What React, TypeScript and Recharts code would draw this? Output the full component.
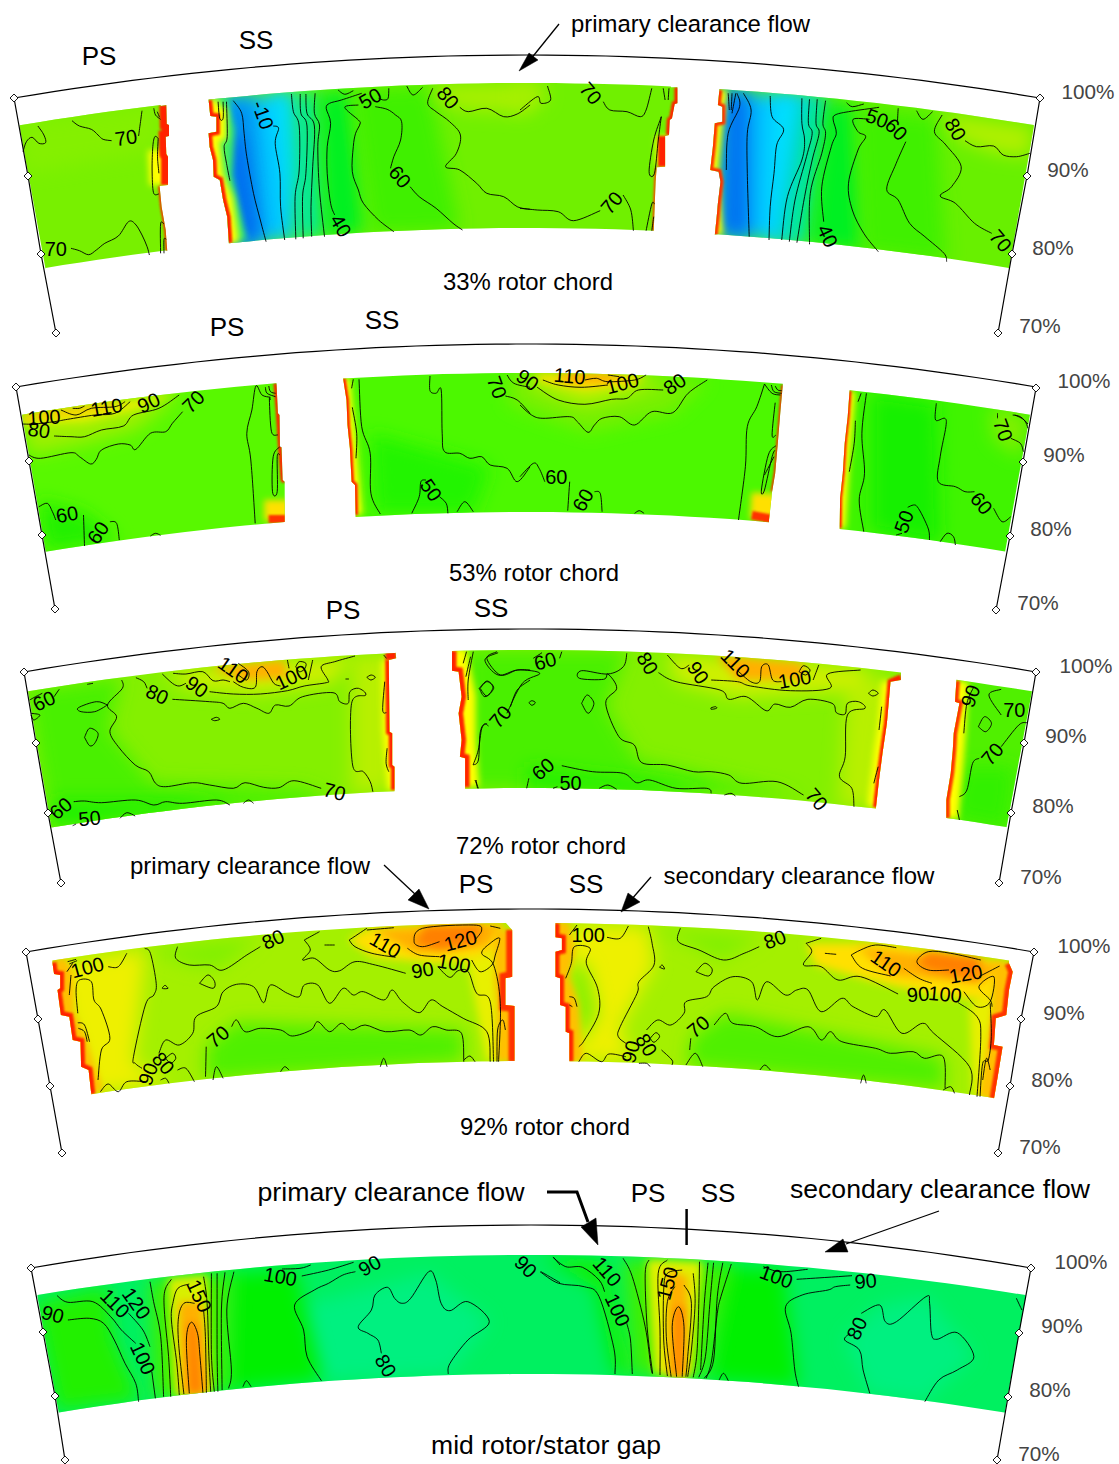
import React from "react";
import { ScatterChart, Scatter, XAxis, YAxis } from "recharts";

const W = 1119, H = 1464;
type Crop = { x: number; y: number; f: number };
const C1 = { x: 0, y: 0, f: 2.958 }, C2 = { x: 520, y: 0, f: 2.618 }, C3 = { x: 0, y: 300, f: 2.958 }, C4 = { x: 520, y: 300, f: 2.618 };
const C5 = { x: 0, y: 600, f: 2.958 }, C6 = { x: 430, y: 600, f: 2.276 }, C7 = { x: 0, y: 850, f: 2.958 }, C8 = { x: 530, y: 850, f: 2.662 };
const C9 = { x: 0, y: 1170, f: 2.8 }, C10 = { x: 540, y: 1170, f: 2.708 };

const frames = [
  { apex: [527, 55], left: [[14, 98], [28, 176], [41, 254], [56, 333]], right: [[1040, 98], [1027, 176], [1012, 254], [998, 333]] },
  { apex: [526, 344], left: [[16, 387], [29, 461], [42, 535], [55, 609]], right: [[1036, 388], [1023, 462], [1010, 536], [996, 610]] },
  { apex: [530, 629], left: [[24, 672], [36, 743], [48, 813], [61, 883]], right: [[1036, 672], [1024, 743], [1011, 813], [999, 883]] },
  { apex: [530, 909], left: [[26, 952], [38, 1019], [50, 1086], [62, 1153]], right: [[1034, 952], [1021, 1019], [1010, 1086], [998, 1153]] },
  { apex: [531, 1225], left: [[31, 1268], [43, 1332], [55, 1396], [65, 1460]], right: [[1031, 1268], [1019, 1333], [1008, 1397], [997, 1460]] },
];

// id, apex x, top apex y, bottom apex y, left edge, right edge, base colour
const regions: any[] = [
  ["r1a", 527, 83, 228, [C1, 58, 378, 135, 808], [C1, 475, 318, 492, 315, 493, 372, 500, 375, 500, 408, 490, 410, 492, 462, 497, 470, 497, 555, 472, 558, 478, 620, 490, 690, 495, 755], "#78f000"],
  ["r1b", 527, 83, 228, [C1, 617, 300, 622, 348, 640, 350, 640, 395, 617, 400, 620, 440, 630, 480, 632, 530, 650, 540, 660, 600, 672, 650, 677, 730], [C2, 395, 262, 412, 262, 412, 310, 405, 312, 398, 355, 392, 360, 390, 405, 380, 408, 380, 500, 358, 502, 355, 545, 350, 695], "#70f000"],
  ["r1c", 527, 83, 228, [C2, 522, 270, 518, 315, 530, 320, 530, 365, 510, 370, 505, 440, 498, 510, 520, 515, 525, 545, 518, 610, 515, 650, 510, 705], [C2, 1345, 380, 1280, 808], "#68f000"],
  ["r2a", 526, 373, 512, [C3, 65, 345, 135, 752], [C3, 815, 250, 818, 250, 822, 340, 827, 345, 828, 440, 833, 442, 836, 540, 842, 545, 842, 662], "#58f800"],
  ["r2b", 526, 373, 512, [C3, 1015, 235, 1025, 300, 1028, 375, 1035, 445, 1040, 545, 1050, 555, 1052, 645], [C4, 688, 255, 682, 330, 675, 430, 668, 520, 660, 575, 652, 660], "#4cf800"],
  ["r2c", 526, 373, 512, [C4, 863, 272, 858, 350, 850, 430, 845, 520, 838, 595, 837, 685], [C4, 1335, 345, 1270, 755], "#40f400"],
  ["r3a", 530, 650, 788, [C5, 83, 275, 152, 682], [C5, 1170, 155, 1172, 175, 1150, 180, 1152, 395, 1160, 400, 1160, 495, 1167, 500, 1167, 570], "#84f000"],
  ["r3b", 530, 650, 788, [C6, 50, 152, 50, 212, 65, 215, 72, 290, 65, 340, 72, 420, 68, 470, 80, 475, 80, 562], [C6, 1072, 222, 1072, 240, 1048, 245, 1040, 370, 1030, 460, 1022, 540, 1015, 622], "#84f000"],
  ["r3c", 530, 650, 788, [C6, 1198, 242, 1195, 305, 1205, 310, 1192, 400, 1190, 450, 1185, 520, 1175, 600, 1175, 655], [C6, 1370, 275, 1312, 683], "#50f000"],
  ["r4a", 530, 923, 1061, [C7, 155, 338, 160, 372, 178, 375, 178, 415, 170, 420, 180, 495, 205, 500, 215, 570, 238, 575, 240, 650, 262, 660, 270, 733], [C7, 1497, 220, 1515, 240, 1515, 380, 1495, 385, 1495, 465, 1522, 468, 1522, 635], "#a4f000"],
  ["r4b", 530, 923, 1061, [C8, 68, 220, 68, 262, 85, 265, 85, 300, 68, 305, 68, 380, 80, 385, 80, 465, 95, 470, 95, 545, 105, 550, 105, 635], [C8, 1275, 340, 1285, 365, 1275, 420, 1268, 495, 1240, 505, 1235, 585, 1258, 590, 1245, 680, 1235, 748], "#a4f000"],
  ["r5", 531, 1255, 1374, [C9, 105, 380, 165, 730], [C10, 1315, 382, 1258, 733], "#00f060"],
];

// region id, crop, colour, outline
const patches: any[] = [
  ["r1a", C1, "#84f000", 60, 370, 480, 310, 470, 450, 70, 520],
  ["r1b", C1, "#00c4ff", 640, 300, 860, 280, 885, 500, 875, 720, 700, 730],
  ["r1b", C1, "#0090f0", 650, 300, 750, 290, 780, 720, 700, 730, 660, 500],
  ["r1b", C1, "#0060f0", 670, 420, 710, 400, 760, 720, 710, 730],
  ["r1b", C1, "#00e0ff", 800, 290, 865, 280, 880, 520, 845, 715, 830, 500],
  ["r1b", C1, "#00e8a0", 870, 280, 940, 275, 960, 710, 875, 718],
  ["r1b", C1, "#00f020", 940, 275, 1040, 270, 1080, 700, 960, 710],
  ["r1b", C1, "#40f000", 1040, 270, 1270, 255, 1360, 690, 1100, 700],
  ["r1b", C1, "#a8f000", 1290, 255, 1568, 250, 1568, 340, 1370, 330, 1290, 300],
  ["r1b", C2, "#a8f000", -10, 250, 70, 255, 60, 310, -10, 330],
  ["r1c", C2, "#00c0ff", 530, 270, 800, 295, 725, 725, 525, 705],
  ["r1c", C2, "#0070f0", 535, 270, 600, 280, 600, 715, 525, 705],
  ["r1c", C2, "#00e0ff", 660, 285, 740, 295, 680, 720, 650, 720],
  ["r1c", C2, "#00e8a0", 740, 295, 800, 300, 755, 732, 685, 722],
  ["r1c", C2, "#00f020", 800, 300, 880, 320, 900, 755, 755, 735],
  ["r1c", C2, "#40f000", 880, 320, 1090, 350, 1115, 785, 900, 755],
  ["r1c", C2, "#b0f000", 1100, 340, 1345, 380, 1335, 470, 1250, 460, 1150, 420],
  ["r2a", C3, "#20f000", 110, 600, 250, 640, 350, 720, 135, 752],
  ["r2a", C3, "#a0f000", 65, 345, 535, 280, 490, 320, 400, 390, 250, 430, 85, 465],
  ["r2a", C3, "#e8f000", 65, 345, 530, 278, 400, 330, 250, 365, 65, 375],
  ["r2a", C3, "#ffc000", 65, 345, 390, 298, 300, 330, 65, 362],
  ["r2b", C3, "#20f400", 1095, 400, 1450, 500, 1400, 640, 1110, 640],
  ["r2b", C4, "#78f000", -30, 222, 490, 240, 400, 340, 300, 365, 180, 395, 60, 350, -30, 310],
  ["r2b", C4, "#c0f000", 0, 222, 400, 232, 310, 270, 170, 313, 60, 270],
  ["r2b", C4, "#ffe000", 40, 222, 330, 225, 290, 255, 170, 268, 50, 245],
  ["r2b", C4, "#ffa000", 90, 222, 280, 225, 230, 245, 130, 245],
  ["r2c", C4, "#18f000", 920, 280, 1090, 310, 1100, 730, 920, 690],
  ["r2c", C4, "#80f000", 1230, 320, 1335, 345, 1310, 470, 1240, 420],
  ["r3a", C5, "#48f000", 80, 270, 360, 230, 320, 390, 450, 550, 900, 565, 1000, 610, 150, 685],
  ["r3a", C5, "#20f000", 160, 600, 680, 600, 500, 640, 150, 685],
  ["r3a", C5, "#b8f000", 1040, 165, 1170, 160, 1165, 570, 1040, 580],
  ["r3a", C5, "#d0f000", 480, 215, 1050, 165, 980, 250, 760, 280, 560, 265],
  ["r3a", C5, "#ffb000", 620, 205, 840, 180, 850, 235, 720, 240],
  ["r3b", C6, "#48f000", 80, 150, 450, 150, 400, 320, 470, 480, 850, 590, 80, 565],
  ["r3b", C6, "#20f000", 220, 500, 650, 570, 500, 585, 220, 570],
  ["r3b", C6, "#b8f000", 950, 240, 1050, 230, 1015, 620, 930, 620],
  ["r3b", C6, "#d0f000", 540, 165, 880, 190, 1000, 210, 985, 270, 700, 290, 560, 245],
  ["r3b", C6, "#ffb000", 650, 165, 850, 190, 850, 240, 700, 240],
  ["r3c", C6, "#30f000", 1210, 500, 1330, 500, 1312, 683, 1190, 650],
  ["r4a", C7, "#eef000", 160, 340, 430, 300, 395, 640, 500, 700, 270, 733, 230, 600],
  ["r4a", C7, "#80f000", 430, 295, 770, 260, 650, 355, 560, 345],
  ["r4a", C7, "#50f000", 610, 690, 610, 590, 700, 515, 1370, 540, 1370, 635],
  ["r4a", C7, "#e8f000", 1380, 320, 1480, 290, 1480, 635, 1440, 635],
  ["r4a", C7, "#ffe000", 1030, 270, 1090, 235, 1490, 222, 1480, 300, 1400, 330, 1290, 340, 1100, 320],
  ["r4a", C7, "#ffb000", 1100, 240, 1490, 222, 1440, 290, 1230, 310],
  ["r4a", C7, "#ff8000", 1225, 280, 1260, 228, 1430, 225, 1400, 280, 1300, 300],
  ["r4b", C8, "#eef000", 100, 225, 315, 230, 330, 345, 240, 530, 270, 630, 105, 635],
  ["r4b", C8, "#80f000", 100, 350, 150, 340, 180, 490, 130, 590],
  ["r4b", C8, "#80f000", 320, 230, 620, 260, 510, 330, 400, 270],
  ["r4b", C8, "#50f000", 420, 650, 430, 560, 520, 490, 1100, 620, 1105, 720],
  ["r4b", C8, "#e8f000", 1170, 470, 1240, 370, 1235, 740, 1180, 740],
  ["r4b", C8, "#ffe000", 735, 280, 950, 280, 1270, 340, 1230, 450, 1100, 440, 900, 390, 760, 345],
  ["r4b", C8, "#ffb000", 870, 290, 1260, 345, 1200, 400, 960, 375],
  ["r4b", C8, "#ff8000", 1030, 340, 1060, 305, 1200, 325, 1190, 390, 1060, 360],
  ["r5", C9, "#00f080", 830, 410, 1200, 310, 1370, 455, 1260, 610, 900, 630],
  ["r5", C9, "#20f000", 100, 400, 300, 350, 320, 510, 390, 690, 160, 720],
  ["r5", C9, "#00f000", 640, 310, 830, 300, 900, 630, 630, 660],
  ["r5", C9, "#40f000", 420, 330, 650, 305, 640, 660, 430, 690],
  ["r5", C9, "#d8f000", 470, 325, 580, 315, 590, 670, 490, 680],
  ["r5", C9, "#ffb000", 500, 395, 565, 395, 585, 670, 510, 675],
  ["r5", C9, "#ff8000", 525, 460, 550, 460, 565, 670, 530, 670],
  ["r5", C10, "#00f080", 825, 510, 920, 405, 1050, 380, 1175, 560, 1040, 695, 890, 670],
  ["r5", C10, "#10f000", 0, 255, 175, 275, 250, 612, 200, 612, 150, 350],
  ["r5", C10, "#00f000", 480, 290, 660, 300, 700, 650, 460, 630],
  ["r5", C10, "#40f000", 225, 265, 520, 282, 450, 625, 250, 612],
  ["r5", C10, "#e0f000", 290, 268, 440, 275, 410, 620, 310, 612],
  ["r5", C10, "#ffb000", 345, 300, 400, 320, 395, 620, 345, 618],
  ["r5", C10, "#ff8000", 365, 410, 390, 410, 385, 620, 365, 620],
];
const finePatchColours = ["#ffc000", "#ffe000", "#ffb000", "#ffa000", "#ff8000", "#e0f000", "#d8f000", "#e8f000"];

// region id, crop, colour, stroke width, soft?, points
const bands: any[] = [
  ["r1a", C1, "#ffff00", 22, 1, 470, 450, 475, 555],
  ["r1a", C1, "#ff2000", 14, 0, 492, 315, 493, 372, 500, 375, 500, 408, 490, 410, 492, 462, 497, 470, 497, 555],
  ["r1a", C1, "#ff2000", 3, 0, 472, 558, 478, 620, 490, 690, 495, 755],
  ["r1b", C1, "#40f060", 36, 1, 617, 300, 640, 395, 632, 530, 677, 730],
  ["r1b", C1, "#ffff00", 20, 1, 617, 300, 622, 348, 640, 350, 640, 395, 617, 400, 632, 530, 660, 600, 677, 730],
  ["r1b", C1, "#ff2000", 7, 0, 617, 300, 622, 348, 640, 350, 640, 395, 617, 400, 620, 440, 630, 480, 632, 530, 650, 540, 660, 600, 672, 650, 677, 730],
  ["r1b", C2, "#ffff00", 18, 1, 380, 408, 380, 500],
  ["r1b", C2, "#ff2000", 6, 0, 412, 262, 412, 310, 405, 312, 398, 355, 392, 360, 390, 405],
  ["r1b", C2, "#ff2000", 14, 0, 380, 408, 380, 500],
  ["r1b", C2, "#ff4000", 3, 0, 358, 502, 355, 545, 350, 695],
  ["r1c", C2, "#ffff00", 16, 1, 522, 270, 510, 370, 498, 510, 510, 705],
  ["r1c", C2, "#ff3000", 6, 0, 522, 270, 518, 315, 530, 320, 530, 365, 510, 370, 505, 440, 498, 510, 520, 515, 525, 545, 518, 610, 515, 650, 510, 705],
  ["r2a", C3, "#ff2000", 4, 0, 815, 250, 822, 340, 828, 440, 836, 540, 842, 545],
  ["r2a", C3, "#ffe000", 30, 1, 826, 600, 826, 662],
  ["r2a", C3, "#ff3000", 24, 0, 830, 645, 830, 670],
  ["r2b", C3, "#ffff00", 14, 1, 1015, 235, 1035, 445, 1052, 645],
  ["r2b", C3, "#ff2000", 5, 0, 1015, 235, 1025, 300, 1028, 375, 1035, 445, 1040, 545, 1050, 555, 1052, 645],
  ["r2b", C4, "#ff2000", 3, 0, 688, 255, 682, 330, 675, 430, 668, 520, 660, 575],
  ["r2b", C4, "#ffe000", 26, 1, 640, 580, 636, 660],
  ["r2b", C4, "#ff3000", 24, 0, 640, 640, 636, 665],
  ["r2c", C4, "#ffff00", 12, 1, 863, 272, 845, 520, 837, 685],
  ["r2c", C4, "#ff2000", 4, 0, 863, 272, 858, 350, 850, 430, 845, 520, 838, 595, 837, 685],
  ["r3a", C5, "#ffff00", 14, 1, 1150, 180, 1152, 395, 1167, 570],
  ["r3a", C5, "#ff2000", 7, 0, 1150, 180, 1152, 395, 1160, 400, 1160, 495, 1167, 500, 1167, 570],
  ["r3a", C5, "#ff2000", 10, 0, 1140, 165, 1172, 165],
  ["r3b", C6, "#ffff00", 28, 1, 50, 152, 72, 290, 72, 420, 80, 562],
  ["r3b", C6, "#ff2000", 9, 0, 50, 152, 50, 212, 65, 215, 72, 290, 65, 340, 72, 420, 68, 470, 80, 475, 80, 562],
  ["r3b", C6, "#ffff00", 18, 1, 1048, 245, 1040, 370, 1030, 460, 1015, 622],
  ["r3b", C6, "#ff2000", 6, 0, 1072, 232, 1048, 245, 1040, 370, 1030, 460, 1022, 540, 1015, 622],
  ["r3c", C6, "#ffff00", 24, 1, 1198, 242, 1192, 400, 1185, 520, 1175, 655],
  ["r3c", C6, "#ff3000", 7, 0, 1198, 242, 1195, 305, 1205, 310, 1192, 400, 1190, 450, 1185, 520, 1175, 600, 1175, 655],
  ["r4a", C7, "#ffc000", 26, 1, 155, 338, 178, 375, 180, 495, 215, 570, 240, 650, 270, 733],
  ["r4a", C7, "#ff2000", 8, 0, 155, 338, 160, 372, 178, 375, 178, 415, 170, 420, 180, 495, 205, 500, 215, 570, 238, 575, 240, 650, 262, 660, 270, 733],
  ["r4a", C7, "#ffc000", 36, 1, 1515, 240, 1515, 380, 1522, 468, 1522, 635],
  ["r4a", C7, "#ff3000", 12, 0, 1515, 240, 1515, 380, 1495, 385, 1495, 465, 1522, 468, 1522, 635],
  ["r4b", C8, "#ffc000", 26, 1, 68, 220, 85, 300, 68, 380, 95, 470, 105, 635],
  ["r4b", C8, "#ff2000", 8, 0, 68, 220, 68, 262, 85, 265, 85, 300, 68, 305, 68, 380, 80, 385, 80, 465, 95, 470, 95, 545, 105, 550, 105, 635],
  ["r4b", C8, "#ffc000", 30, 1, 1275, 340, 1268, 495, 1235, 748],
  ["r4b", C8, "#ff3000", 9, 0, 1275, 340, 1285, 365, 1275, 420, 1268, 495, 1240, 505, 1235, 585, 1258, 590, 1245, 680, 1235, 748],
];

const linesC1 = [
  [213, 362, 235, 378, 270, 388, 290, 405, 305, 418, 330, 422], [420, 332, 415, 370, 410, 408],
  [68, 455, 78, 425, 95, 412, 115, 430, 135, 428, 130, 405, 112, 378], [455, 325, 460, 345, 475, 358], [465, 335, 472, 352],
  [468, 415, 458, 410, 452, 440, 450, 510, 454, 578, 470, 582], [468, 415, 466, 470, 470, 520],
  [210, 745, 235, 752, 262, 764, 285, 750, 310, 730, 350, 708, 380, 665, 400, 672, 420, 705, 435, 740, 442, 765],
  [475, 760, 475, 672, 485, 672], [485, 760, 485, 718, 492, 718],
  [645, 305, 650, 355, 660, 355, 660, 305], [670, 305, 672, 410, 663, 440, 670, 490, 680, 542],
  [690, 302, 715, 340, 722, 400, 730, 470, 750, 580, 770, 660, 787, 725], [808, 378, 824, 385, 814, 430, 828, 520, 830, 620, 842, 720],
  [862, 282, 868, 335, 885, 378, 885, 510, 873, 590, 875, 718], [888, 282, 890, 340, 908, 378, 905, 520, 895, 590, 897, 715],
  [905, 282, 908, 340, 930, 378, 925, 500, 920, 620, 922, 710], [932, 280, 930, 340, 945, 375, 940, 440, 945, 570, 960, 710],
  [1070, 280, 1010, 300, 975, 310, 965, 325, 978, 370, 968, 440, 968, 520, 978, 610, 990, 645],
  [1060, 315, 1020, 322, 1060, 360, 1065, 372, 1052, 400, 1045, 440, 1042, 515, 1060, 570, 1075, 610, 1120, 660, 1165, 695],
  [1110, 320, 1145, 328, 1170, 345, 1188, 365, 1185, 420, 1165, 470, 1155, 505], [1213, 560, 1240, 590, 1290, 625, 1340, 670, 1368, 690],
  [1000, 270, 1020, 283, 1045, 272], [1150, 265, 1148, 295, 1135, 300, 1120, 295], [1203, 258, 1222, 285, 1250, 262],
  [1280, 265, 1265, 310, 1290, 335, 1330, 365, 1362, 405, 1350, 460, 1318, 500, 1360, 510, 1410, 550, 1440, 580, 1490, 590, 1530, 620, 1568, 628],
  [1360, 322, 1385, 335, 1440, 325, 1490, 350, 1530, 342, 1568, 315],
];
const linesC2 = [
  [0, 330, 45, 290, 55, 310, 80, 300, 72, 258], [0, 625, 45, 630, 100, 635, 140, 662, 210, 632], [270, 585, 290, 630, 297, 692],
  [218, 305, 235, 330, 280, 335, 315, 350, 330, 330, 345, 265], [375, 265, 380, 300], [390, 265, 388, 300],
  [370, 350, 350, 420, 338, 515, 352, 520, 362, 420, 370, 350], [330, 692, 345, 612, 352, 612], [345, 692, 350, 650],
  [545, 280, 548, 330], [555, 280, 553, 330], [565, 280, 555, 340], [585, 280, 605, 330, 595, 400, 595, 520, 600, 710], [568, 280, 575, 320, 545, 400, 540, 510],
  [655, 288, 660, 350, 690, 388, 672, 435, 665, 520, 655, 620, 652, 720], [738, 295, 738, 370, 745, 420, 738, 480, 700, 590, 685, 720],
  [758, 298, 755, 370, 765, 400, 750, 470, 720, 600, 705, 725], [778, 298, 775, 370, 783, 400, 765, 480, 745, 590, 725, 728],
  [800, 302, 793, 370, 800, 400, 790, 460, 760, 580, 758, 733], [940, 322, 860, 335, 825, 345, 820, 360, 828, 400, 815, 440, 790, 560, 795, 665],
  [915, 358, 872, 358, 885, 395, 905, 410, 885, 450, 860, 550, 870, 630, 900, 700, 938, 755], [990, 325, 988, 370], [855, 308, 870, 320, 900, 312], [1038, 332, 1055, 358, 1080, 335],
  [1010, 425, 985, 490, 960, 568, 990, 600, 1020, 670, 1060, 710, 1110, 760, 1117, 785],
  [1105, 345, 1085, 395, 1115, 435, 1155, 500, 1130, 560, 1100, 588, 1140, 610, 1190, 670, 1235, 700],
  [1165, 422, 1195, 440, 1240, 438, 1265, 465, 1300, 470, 1335, 460],
];
const linesC3 = [
  [65, 372, 100, 372, 160, 365, 200, 358, 280, 345, 340, 340, 385, 305], [180, 330, 225, 345, 270, 325, 340, 320, 370, 305], [215, 325, 235, 325, 250, 318],
  [160, 408, 210, 410, 250, 410, 300, 390, 365, 378, 395, 345, 470, 325, 530, 285],
  [85, 465, 120, 475, 210, 458, 235, 470, 268, 492, 285, 478, 300, 450, 350, 432, 385, 435, 402, 448, 445, 400, 490, 395, 510, 370, 540, 335],
  [115, 620, 140, 610, 155, 635, 165, 660], [247, 645, 250, 738], [325, 665, 345, 670, 353, 720], [445, 708, 460, 700, 475, 706],
  [800, 292, 775, 285, 757, 258, 745, 330, 730, 400, 742, 480, 755, 670], [785, 262, 790, 280, 815, 290], [795, 258, 800, 275, 815, 280],
  [800, 300, 797, 300, 803, 395, 822, 405], [828, 440, 808, 470, 806, 575, 820, 575, 820, 470, 828, 465],
  [1045, 238, 1040, 265], [1062, 238, 1070, 380, 1095, 460, 1097, 580, 1125, 642], [1042, 322, 1055, 400, 1053, 475],
  [1272, 228, 1272, 272, 1290, 280, 1305, 270, 1308, 400, 1315, 455, 1360, 460, 1390, 475, 1425, 470, 1450, 495, 1500, 505, 1530, 545, 1568, 500],
  [1218, 640, 1240, 590, 1245, 545, 1260, 540], [1300, 590, 1320, 610, 1325, 640], [1352, 635, 1375, 605, 1400, 635], [1495, 288, 1530, 300, 1568, 340], [1500, 225, 1520, 250, 1568, 262],
];
const linesC4 = [
  [60, 240, 100, 255, 160, 262, 230, 255], [170, 240, 200, 235, 230, 245, 300, 240, 330, 225], [230, 225, 260, 230],
  [45, 262, 100, 300, 170, 313, 240, 298, 280, 295, 310, 270, 375, 270],
  [0, 315, 30, 345, 60, 355, 130, 350, 150, 365, 178, 397, 195, 375, 215, 355, 260, 350, 300, 375, 345, 335, 400, 338, 440, 280, 490, 240],
  [0, 530, 35, 490, 50, 505, 65, 545], [130, 545, 125, 632], [195, 575, 210, 580, 215, 635], [300, 640, 312, 632, 325, 640],
  [640, 252, 620, 320, 595, 380, 590, 500, 572, 660], [640, 252, 660, 280, 682, 285], [658, 255, 665, 275, 685, 280], [668, 258, 675, 270, 685, 272],
  [668, 308, 660, 405, 670, 405], [670, 437, 650, 465, 632, 570, 640, 570, 660, 470, 668, 450], [640, 525, 665, 470],
  [893, 280, 885, 305], [907, 280, 895, 400, 902, 520, 888, 600, 900, 695], [878, 362, 875, 430, 862, 515],
  [1090, 310, 1088, 360, 1112, 355, 1115, 380, 1100, 470, 1095, 545, 1140, 560, 1165, 575, 1190, 575],
  [1015, 622, 1030, 615, 1040, 620, 1055, 650, 1070, 690, 1072, 720], [985, 705, 1000, 700], [1100, 725, 1118, 700, 1135, 710, 1140, 735],
  [1240, 625, 1262, 665, 1285, 650], [1285, 415, 1310, 430, 1318, 455], [1330, 385, 1320, 360, 1295, 345], [1330, 372, 1310, 350, 1290, 345], [1250, 340, 1250, 355],
];
const linesC5 = [
  [88, 300, 105, 290, 125, 280], [160, 290, 175, 268], [92, 340, 118, 345, 100, 360, 92, 345], [258, 253, 275, 250],
  [360, 240, 362, 265, 318, 315, 345, 350, 325, 395, 350, 440, 400, 495, 440, 515, 460, 550, 490, 560, 570, 548, 620, 555, 690, 565, 725, 548, 780, 562, 825, 563, 870, 542, 950, 565],
  [318, 315, 285, 305, 232, 323, 240, 335, 280, 335, 318, 315], [250, 412, 265, 385, 290, 400, 280, 430, 265, 437, 250, 412], [402, 233, 425, 245, 435, 265],
  [510, 298, 620, 305, 660, 310, 680, 325, 720, 310, 760, 325, 795, 340, 815, 315, 855, 318, 895, 290, 985, 278, 1005, 305, 1030, 310, 1035, 275, 1060, 265, 1082, 285, 1040, 310, 1043, 495, 1075, 515, 1095, 545, 1103, 575],
  [625, 358, 640, 352, 650, 358, 635, 362, 625, 358], [1085, 232, 1098, 225, 1110, 232, 1097, 240, 1085, 232], [1022, 237, 1032, 237],
  [480, 222, 510, 250, 530, 258, 550, 250], [512, 220, 550, 222, 600, 215, 630, 242, 660, 240, 680, 245],
  [620, 275, 690, 282, 770, 282, 850, 272, 900, 258, 965, 248, 970, 240, 950, 200, 990, 185, 1050, 168],
  [690, 245, 720, 262, 755, 262, 760, 215, 775, 200, 790, 215, 810, 250, 830, 258], [705, 190, 735, 215, 730, 240, 705, 225],
  [850, 180, 855, 205], [875, 200, 885, 185, 905, 190, 900, 208, 885, 215, 875, 200], [925, 180, 912, 240],
  [1135, 165, 1143, 175], [1138, 245, 1132, 330, 1143, 338], [1145, 445, 1142, 490, 1150, 515],
  [218, 605, 250, 603, 300, 608, 400, 600, 455, 615, 490, 605, 540, 610, 640, 600, 680, 615], [355, 655, 375, 638, 400, 648], [720, 610, 735, 600, 750, 610], [215, 677, 225, 672],
  [1400, 155, 1385, 240, 1385, 300], [1380, 155, 1370, 190], [1392, 170, 1378, 230], [1470, 155, 1440, 175, 1480, 225, 1530, 210, 1568, 210],
  [1420, 265, 1440, 245, 1458, 262, 1440, 288, 1420, 265], [1510, 320, 1530, 270, 1568, 240], [1400, 495, 1415, 480, 1420, 400, 1432, 372, 1445, 378], [1405, 540, 1415, 565],
];
const linesC6 = [
  [155, 158, 125, 180, 155, 225, 200, 210, 250, 220, 210, 250, 175, 340], [112, 265, 130, 243, 145, 265, 125, 290, 112, 265], [300, 155, 295, 175],
  [225, 308, 232, 302, 240, 308, 232, 316, 225, 308], [255, 158, 235, 175], [130, 370, 118, 385, 110, 450, 98, 495], [345, 310, 358, 285, 373, 310, 360, 340, 345, 310],
  [448, 160, 440, 200, 405, 222, 345, 212, 340, 235, 395, 238, 405, 222, 425, 265, 400, 310, 430, 410, 465, 435, 482, 488, 540, 495, 600, 515, 640, 515, 680, 525, 710, 550, 790, 545, 850, 585],
  [520, 218, 560, 245, 660, 270, 680, 298, 720, 290, 765, 332, 785, 312, 820, 322, 860, 298, 915, 310, 925, 338, 945, 342, 950, 310, 975, 305, 990, 325, 950, 345, 945, 470, 932, 530, 960, 565, 965, 620],
  [540, 165, 570, 205, 590, 195], [640, 240, 700, 245, 730, 258, 820, 272, 910, 265, 905, 222, 980, 210], [700, 212, 730, 245, 750, 245, 755, 200, 770, 195, 780, 240, 800, 245],
  [840, 215, 850, 197, 865, 210, 855, 225, 840, 215], [885, 195, 872, 240], [998, 280, 1008, 270, 1020, 280, 1008, 288, 998, 280], [640, 323, 650, 320, 652, 325, 640, 328, 640, 323],
  [1028, 320, 1022, 390], [1020, 500, 1010, 550], [300, 497, 370, 515, 440, 520, 470, 548, 500, 540, 560, 565, 630, 565, 640, 580], [225, 535, 220, 565],
  [385, 565, 405, 555, 425, 568], [670, 585, 685, 580, 695, 588], [105, 540, 108, 565], [280, 565, 290, 560],
  [1300, 268, 1272, 285, 1300, 345], [1248, 380, 1262, 350, 1278, 370, 1265, 395, 1248, 380], [1360, 368, 1340, 375, 1300, 440], [1250, 475, 1235, 490, 1222, 570, 1205, 590], [1200, 630, 1205, 660], [1238, 260, 1222, 310, 1215, 400],
];
const linesC7 = [
  [198, 365, 215, 340], [200, 335, 225, 328], [205, 342, 228, 332], [210, 375, 205, 435],
  [230, 490, 225, 420, 235, 390, 270, 395, 278, 450, 300, 480, 325, 565, 300, 600, 290, 690], [320, 350, 350, 350, 375, 310], [230, 518, 250, 525, 265, 575], [232, 535, 250, 545, 258, 575],
  [428, 295, 445, 310, 462, 400, 455, 435, 430, 465, 395, 620, 400, 640, 420, 655], [488, 405, 480, 415, 497, 415, 488, 405],
  [525, 290, 520, 325, 560, 345, 620, 345, 660, 360, 730, 315, 770, 290], [590, 400, 615, 375, 635, 395, 630, 415, 590, 400],
  [900, 270, 945, 245], [900, 270, 918, 300, 895, 330, 930, 325, 975, 360, 1005, 362, 1050, 335, 1110, 345, 1200, 370],
  [1033, 270, 1085, 235], [1033, 270, 1050, 290, 1100, 310, 1170, 322], [960, 285, 990, 285], [1085, 240, 1165, 233],
  [1205, 295, 1240, 315, 1300, 320], [1300, 275, 1250, 290, 1225, 275, 1250, 235, 1400, 225, 1425, 240, 1405, 270],
  [1295, 350, 1330, 382, 1355, 362, 1385, 365, 1410, 430, 1450, 455, 1460, 635], [1395, 330, 1420, 365, 1455, 345, 1465, 315, 1478, 265, 1450, 280, 1425, 310, 1460, 345, 1480, 460, 1475, 635],
  [1450, 228, 1480, 235],
  [470, 610, 490, 570, 530, 585, 570, 550, 580, 500, 640, 470, 660, 425, 700, 403, 750, 410, 780, 458, 800, 405, 850, 430, 885, 440, 900, 405, 940, 405, 975, 460, 1015, 415, 1045, 435, 1075, 425, 1135, 450, 1160, 420, 1190, 455, 1240, 488, 1275, 450, 1310, 470, 1370, 505, 1440, 545, 1450, 635],
  [608, 680, 610, 590], [685, 530, 700, 510, 725, 545, 770, 535, 830, 540, 865, 558, 920, 540, 940, 515, 975, 545, 1010, 520, 1040, 540, 1080, 525, 1140, 545, 1210, 540, 1245, 555, 1280, 530, 1320, 540, 1365, 550, 1372, 635],
  [630, 690, 640, 650, 660, 685], [830, 665, 842, 650, 855, 660], [1125, 650, 1135, 625, 1145, 650], [1372, 630, 1390, 618, 1405, 635],
  [1470, 635, 1472, 540, 1487, 510, 1495, 540], [297, 725, 320, 702, 350, 725, 375, 695, 430, 695], [525, 660, 550, 655, 575, 695], [475, 690, 490, 685, 500, 700], [490, 625, 510, 610, 520, 625, 505, 640, 490, 625],
];
const linesC8 = [
  [105, 255, 125, 225], [95, 385, 110, 340, 118, 290, 160, 295, 150, 340, 180, 415, 183, 490, 145, 570, 130, 590], [105, 440, 118, 445, 125, 470], [105, 465, 113, 470],
  [205, 262, 240, 265, 262, 228], [315, 230, 325, 280, 330, 345, 290, 395, 285, 430, 240, 530, 235, 560, 255, 580], [345, 352, 352, 345, 358, 357, 345, 352], [442, 365, 465, 340, 485, 358, 475, 378, 442, 365],
  [400, 235, 395, 275, 450, 300, 515, 330, 570, 310, 610, 290], [735, 280, 775, 265], [735, 280, 750, 305, 728, 345, 775, 350, 820, 390, 880, 380, 980, 432],
  [855, 315, 880, 300, 920, 285, 975, 293], [855, 315, 885, 355, 960, 378], [785, 310, 815, 313],
  [1115, 360, 1060, 360, 1030, 335, 1060, 305, 1120, 310, 1200, 330], [995, 355, 1035, 385, 1070, 400], [1155, 425, 1190, 470, 1225, 455, 1235, 380, 1195, 410, 1225, 450, 1230, 470], [1250, 348, 1195, 380],
  [1140, 458, 1190, 500, 1200, 560, 1190, 740], [1225, 460, 1228, 560, 1220, 630, 1205, 640, 1198, 740],
  [310, 540, 340, 510, 375, 525, 410, 490, 415, 455, 470, 440, 490, 410, 540, 380, 590, 395, 605, 450, 630, 395, 680, 435, 710, 420, 740, 420, 775, 485, 830, 445, 860, 470, 920, 500, 945, 480, 990, 550, 1045, 520, 1075, 550, 1170, 650, 1170, 735],
  [425, 600, 428, 565], [490, 525, 520, 490, 540, 520, 600, 530, 660, 560, 740, 530, 775, 570, 800, 545, 830, 575, 920, 595, 960, 610, 1020, 605, 1050, 625, 1100, 620, 1105, 715],
  [415, 645, 440, 610, 460, 650], [612, 660, 625, 645, 640, 660], [880, 700, 888, 675, 895, 700], [1100, 720, 1120, 710, 1130, 730],
  [130, 635, 150, 610, 190, 635, 210, 612, 255, 620], [290, 640, 310, 640, 320, 650], [320, 565, 335, 548, 345, 560, 330, 577, 320, 565], [350, 600, 378, 630, 378, 645], [1205, 690, 1215, 625, 1225, 660],
];
const linesC9 = [
  [160, 377, 190, 397, 260, 395, 310, 440, 340, 480, 380, 520], [190, 450, 250, 445, 290, 460, 320, 510, 350, 580, 380, 640, 388, 695], [360, 430, 400, 480, 420, 530], [425, 605, 435, 685],
  [420, 335, 430, 395, 450, 500, 458, 680], [480, 328, 462, 360, 460, 420, 472, 560, 478, 680], [530, 342, 498, 355, 485, 395, 480, 450, 495, 580, 502, 675],
  [545, 400, 515, 400, 500, 440, 500, 520, 515, 672], [530, 670, 522, 510, 535, 457, 553, 490, 560, 560, 568, 668], [570, 420, 575, 500, 578, 668], [570, 320, 580, 400, 585, 560, 590, 665],
  [592, 310, 592, 550, 600, 665], [608, 310, 608, 550, 610, 665], [630, 307, 620, 420, 622, 660], [655, 305, 635, 420, 648, 600, 640, 655], [680, 650, 690, 632, 703, 650],
  [790, 297, 840, 295, 870, 285], [845, 318, 920, 300, 990, 277], [995, 305, 960, 315, 920, 340, 880, 360, 825, 405, 850, 480, 860, 560, 900, 632],
  [1068, 550, 1058, 510, 1030, 490, 1003, 470, 1040, 420, 1050, 375, 1085, 352, 1105, 385, 1125, 400, 1150, 385, 1200, 305, 1220, 330, 1235, 400, 1260, 422, 1310, 395, 1370, 455, 1310, 510, 1260, 580, 1255, 612],
  [1515, 305, 1568, 338], [1550, 262, 1568, 285],
];
const linesC10 = [
  [35, 262, 70, 290, 115, 292, 160, 330, 175, 365], [0, 305, 50, 340, 120, 350, 160, 380, 200, 535, 203, 612], [225, 265, 250, 320, 285, 470, 300, 590, 305, 612], [235, 460, 245, 510, 250, 612],
  [295, 270, 285, 310, 290, 470, 305, 610], [345, 270, 320, 310, 325, 480, 325, 615], [385, 300, 345, 310, 335, 360, 335, 510, 345, 618], [365, 350, 345, 395, 342, 500, 355, 620],
  [370, 620, 358, 470, 375, 410, 390, 470, 385, 620], [390, 345, 410, 400, 400, 560, 395, 620], [415, 310, 420, 400, 410, 540, 400, 620], [432, 275, 430, 400, 425, 550, 415, 622],
  [455, 278, 445, 400, 435, 600], [470, 278, 460, 400, 448, 560, 430, 622], [495, 278, 480, 380, 470, 570, 445, 625], [518, 282, 490, 380, 480, 430, 465, 570, 450, 625], [485, 630, 497, 610, 510, 632],
  [605, 290, 650, 305, 725, 298], [695, 328, 780, 322, 845, 317], [840, 345, 800, 350, 780, 360, 710, 375, 665, 410, 680, 490, 690, 600, 700, 650],
  [893, 670, 875, 600, 865, 540, 825, 510, 840, 490], [870, 430, 920, 405, 935, 455, 965, 455, 1045, 380, 1055, 400, 1060, 490, 1075, 508, 1130, 488, 1175, 560, 1130, 600, 1080, 630, 1042, 695], [1290, 385, 1305, 420],
];
const contourSets: any[] = [[C1, linesC1], [C2, linesC2], [C3, linesC3], [C4, linesC4], [C5, linesC5], [C6, linesC6], [C7, linesC7], [C8, linesC8], [C9, linesC9], [C10, linesC10]];

// crop, x, y, text, rotation
const contourLabels: any[] = [
  [C1, 373, 413, "70", -8], [C1, 165, 748, "70", 0], [C1, 778, 345, "-10", 70], [C1, 1095, 295, "50", -30], [C1, 1183, 530, "60", 50], [C1, 1325, 293, "80", 50], [C1, 1008, 677, "40", 60],
  [C2, 185, 280, "70", 50], [C2, 240, 608, "70", -50], [C2, 935, 355, "50", 20], [C2, 985, 388, "60", 45], [C2, 1140, 388, "80", 60], [C2, 805, 708, "40", 65], [C2, 1258, 722, "70", 50],
  [C3, 130, 352, "100", -3], [C3, 315, 322, "110", -10], [C3, 440, 308, "90", -25], [C3, 115, 390, "80", 8], [C3, 572, 305, "70", -45], [C3, 198, 643, "60", -10], [C3, 290, 698, "60", -55], [C3, 1275, 570, "50", 55], [C3, 1470, 262, "70", 70],
  [C4, 20, 240, "90", 35], [C4, 130, 228, "110", 5], [C4, 268, 250, "100", -15], [C4, 405, 252, "80", -35], [C4, 95, 530, "60", 0], [C4, 165, 600, "60", -60], [C4, 1265, 390, "70", 70], [C4, 1208, 610, "60", 50], [C4, 1005, 665, "50", -70],
  [C5, 130, 303, "60", -25], [C5, 465, 283, "80", 25], [C5, 582, 260, "90", 35], [C5, 690, 210, "110", 35], [C5, 862, 232, "100", -25], [C5, 990, 575, "70", 15], [C5, 180, 625, "60", -40], [C5, 265, 655, "50", -5],
  [C6, 262, 183, "60", -15], [C6, 160, 350, "70", -50], [C6, 495, 190, "80", 60], [C6, 610, 218, "90", 55], [C6, 695, 190, "110", 45], [C6, 830, 238, "100", -10], [C6, 257, 507, "60", -40], [C6, 320, 550, "50", 0], [C6, 880, 598, "70", 50], [C6, 1230, 288, "90", -70], [C6, 1330, 330, "70", 0], [C6, 1280, 462, "70", -50],
  [C7, 258, 352, "100", -15], [C7, 808, 268, "80", -25], [C7, 1140, 285, "110", 30], [C7, 1362, 272, "120", -15], [C7, 1250, 360, "90", -10], [C7, 1343, 340, "100", 10], [C7, 645, 560, "70", -40], [C7, 483, 640, "80", 50], [C7, 438, 672, "90", -70],
  [C8, 155, 255, "100", 0], [C8, 652, 268, "80", -20], [C8, 448, 530, "70", -40], [C8, 948, 340, "110", 35], [C8, 1160, 372, "120", -10], [C8, 1033, 433, "90", -5], [C8, 1105, 433, "100", 5], [C8, 310, 585, "80", 60], [C8, 268, 605, "90", -75],
  [C9, 148, 433, "90", 15], [C9, 322, 400, "110", 45], [C9, 382, 400, "120", 55], [C9, 558, 378, "150", 65], [C9, 400, 565, "100", 65], [C9, 785, 320, "100", 10], [C9, 1035, 287, "90", -30], [C9, 1472, 290, "90", 45], [C9, 1080, 587, "80", 60],
  [C10, 182, 305, "110", 50], [C10, 210, 420, "100", 65], [C10, 345, 340, "150", -75], [C10, 640, 320, "100", 20], [C10, 882, 333, "90", -5], [C10, 858, 475, "80", -65],
];

// x, y, text, size
const captions: any[] = [
  [99, 56, "PS", 26], [256, 40, "SS", 26], [690.5, 23, "primary clearance flow", 23.9], [528, 281, "33% rotor chord", 23.9],
  [227, 327, "PS", 26], [382, 320, "SS", 26], [534, 572, "53% rotor chord", 23.9],
  [343, 610, "PS", 26], [491, 608, "SS", 26], [541, 845, "72% rotor chord", 23.9], [250, 865, "primary clearance flow", 24], [799, 875, "secondary clearance flow", 24],
  [476, 884, "PS", 26], [586, 884, "SS", 26], [545, 1126, "92% rotor chord", 23.9],
  [391, 1192, "primary clearance flow", 26.7], [648, 1193, "PS", 26], [718, 1193, "SS", 26], [940, 1189, "secondary clearance flow", 26.6], [546, 1445, "mid rotor/stator gap", 26.5],
];
const spanLabels: any[] = [
  [1088, 91, "100%"], [1068, 169, "90%"], [1053, 247, "80%"], [1040, 325, "70%"],
  [1084, 380, "100%"], [1064, 454, "90%"], [1051, 528, "80%"], [1038, 602, "70%"],
  [1086, 665, "100%"], [1066, 735, "90%"], [1053, 805, "80%"], [1041, 876, "70%"],
  [1084, 945, "100%"], [1064, 1012, "90%"], [1052, 1079, "80%"], [1040, 1146, "70%"],
  [1081, 1261, "100%"], [1062, 1325, "90%"], [1050, 1389, "80%"], [1039, 1453, "70%"],
];
const arrowLines: any[] = [
  [1.3, [559, 24], [530, 60]], [1.3, [384, 865], [416, 895]], [1.3, [651, 877], [631, 900]],
  [3, [547, 1192], [577, 1192], [588, 1222]], [2.5, [686.6, 1209], [686.6, 1245]], [1.3, [939, 1211], [846, 1244]],
];
const arrowHeads: any[] = [
  [[519, 71], [529, 53], [538, 60]], [[429, 909], [419, 889], [408, 900]], [[621, 912], [628, 893], [640, 902]],
  [[598, 1245], [581, 1227], [596, 1218]], [[825, 1252], [843, 1239], [848, 1252]],
];

const xy = ([x, y]: number[]) => ({ x, y });
const fromCrop = (c: Crop, a: number[]) => {
  const out = [];
  for (let i = 0; i + 1 < a.length; i += 2) out.push({ x: c.x + a[i] / c.f, y: c.y + a[i + 1] / 3 });
  return out;
};
const arc = (ax: number, ay: number, k: number, x0: number, x1: number) => {
  const n = Math.max(2, Math.ceil(Math.abs(x1 - x0) / 20));
  const out = [];
  for (let i = 0; i <= n; i++) { const x = x0 + ((x1 - x0) * i) / n; out.push({ x, y: ay + (x - ax) * (x - ax) / k }); }
  return out;
};
const edge = (e: any[]) => fromCrop(e[0], e.slice(1));
const outline = (r: any[]) => {
  const [, ax, top, bot, l, rr] = r;
  const L = edge(l), R = edge(rr);
  return [...arc(ax, top, 6094, L[0].x, R[0].x), ...R, ...arc(ax, bot, 5804, R[R.length - 1].x, L[L.length - 1].x), ...[...L].reverse()];
};
const toD = (pts: any[], close = false) => pts.map((p, i) => `${i ? "L" : "M"}${p.x.toFixed(1)} ${p.y.toFixed(1)}`).join("") + (close ? "Z" : "");
// Catmull-Rom path through the read points, for the contour lines
const toSmoothD = (pts: any[]) => {
  let d = `M${pts[0].x.toFixed(1)} ${pts[0].y.toFixed(1)}`;
  for (let i = 0; i + 1 < pts.length; i++) {
    const p0 = pts[i - 1] || pts[i], p1 = pts[i], p2 = pts[i + 1], p3 = pts[i + 2] || p2;
    const c1x = p1.x + (p2.x - p0.x) / 6, c1y = p1.y + (p2.y - p0.y) / 6;
    const c2x = p2.x - (p3.x - p1.x) / 6, c2y = p2.y - (p3.y - p1.y) / 6;
    d += `C${c1x.toFixed(1)} ${c1y.toFixed(1)} ${c2x.toFixed(1)} ${c2y.toFixed(1)} ${p2.x.toFixed(1)} ${p2.y.toFixed(1)}`;
  }
  return d;
};
const noShape = () => null;

const series = (key: string, data: any[], style: any, close = false) => (
  <Scatter key={key} data={data} isAnimationActive={false} shape={noShape}
    line={(p: any) => <path d={toD(p.points, close)} fill="none" {...style} />} />
);
const smoothSeries = (key: string, data: any[], style: any) => (
  <Scatter key={key} data={data} isAnimationActive={false} shape={noShape}
    line={(p: any) => <path d={toSmoothD(p.points)} fill="none" {...style} />} />
);

const diamond = (p: any) => (
  <polygon points={`${p.cx - 4},${p.cy} ${p.cx},${p.cy - 4} ${p.cx + 4},${p.cy} ${p.cx},${p.cy + 4}`} fill="#fff" stroke="#000" strokeWidth={0.9} />
);
const textShape = (p: any) => {
  const d = p.payload;
  return (
    <text x={p.cx} y={p.cy} transform={d.r ? `rotate(${d.r} ${p.cx} ${p.cy})` : undefined} textAnchor="middle" dominantBaseline="central"
      fontFamily="'Liberation Sans', Arial, sans-serif" fontSize={d.s} fill={d.c}>{d.t}</text>
  );
};

export default function App() {
  const clip = (id: string) => `url(#clip-${id})`;
  return (
    <div style={{ position: "absolute", left: 0, top: 0, width: W, height: H, background: "#fff" }}>
      <ScatterChart width={W} height={H} margin={{ top: 0, right: 0, bottom: 0, left: 0 }}>
        <defs>
          <filter id="soft" filterUnits="userSpaceOnUse" x={0} y={0} width={W} height={H}><feGaussianBlur stdDeviation={9} /></filter>
          <filter id="fine" filterUnits="userSpaceOnUse" x={0} y={0} width={W} height={H}><feGaussianBlur stdDeviation={4} /></filter>
          <filter id="soft2" filterUnits="userSpaceOnUse" x={0} y={0} width={W} height={H}><feGaussianBlur stdDeviation={3} /></filter>
          <filter id="soft1" filterUnits="userSpaceOnUse" x={0} y={0} width={W} height={H}><feGaussianBlur stdDeviation={1} /></filter>
          {regions.map((r) => (
            <clipPath key={r[0]} id={`clip-${r[0]}`}><path d={toD(outline(r), true)} /></clipPath>
          ))}
        </defs>
        <XAxis type="number" dataKey="x" domain={[0, W]} hide />
        <YAxis type="number" dataKey="y" domain={[0, H]} reversed hide />
        {regions.map((r) => series(`base-${r[0]}`, outline(r), { fill: r[6], stroke: "none" }, true))}
        {patches.map((p, i) => series(`patch-${i}`, fromCrop(p[1], p.slice(3)), { fill: p[2], stroke: "none", filter: finePatchColours.includes(p[2]) ? "url(#fine)" : "url(#soft)", clipPath: clip(p[0]) }, true))}
        {bands.map((b, i) => series(`band-${i}`, fromCrop(b[1], b.slice(5)), { stroke: b[2], strokeWidth: b[3], strokeLinejoin: "miter", filter: b[4] ? "url(#soft2)" : "url(#soft1)", clipPath: clip(b[0]) }))}
        {contourSets.flatMap(([c, ls], k) => ls.map((l: number[], i: number) => smoothSeries(`ct-${k}-${i}`, fromCrop(c, l), { stroke: "#000", strokeWidth: 0.9, strokeLinejoin: "round" })))}
        {frames.map((f, i) => {
          const half = (f.right[0][0] - f.left[0][0]) / 2;
          const k = (half * half) / (f.left[0][1] - f.apex[1]);
          return series(`arc-${i}`, arc(f.apex[0], f.apex[1], k, f.left[0][0], f.right[0][0]), { stroke: "#000", strokeWidth: 1.2 });
        })}
        {frames.map((f, i) => series(`l-${i}`, f.left.map(xy), { stroke: "#000", strokeWidth: 1.2 }))}
        {frames.map((f, i) => series(`r-${i}`, f.right.map(xy), { stroke: "#000", strokeWidth: 1.2 }))}
        <Scatter data={frames.flatMap((f) => [...f.left, ...f.right].map(xy))} isAnimationActive={false} shape={diamond} />
        {arrowLines.map((a, i) => series(`al-${i}`, a.slice(1).map(xy), { stroke: "#000", strokeWidth: a[0] }))}
        {arrowHeads.map((a, i) => series(`ah-${i}`, a.map(xy), { fill: "#000", stroke: "#000", strokeWidth: 0.5 }, true))}
        <Scatter data={contourLabels.map((l) => ({ ...fromCrop(l[0], [l[1], l[2]])[0], t: l[3], r: l[4], s: 20, c: "#000" }))} isAnimationActive={false} shape={textShape} />
        <Scatter data={captions.map((l) => ({ x: l[0], y: l[1], t: l[2], s: l[3], c: "#000" }))} isAnimationActive={false} shape={textShape} />
        <Scatter data={spanLabels.map((l) => ({ x: l[0], y: l[1], t: l[2], s: 20.7, c: "#444" }))} isAnimationActive={false} shape={textShape} />
      </ScatterChart>
    </div>
  );
}
